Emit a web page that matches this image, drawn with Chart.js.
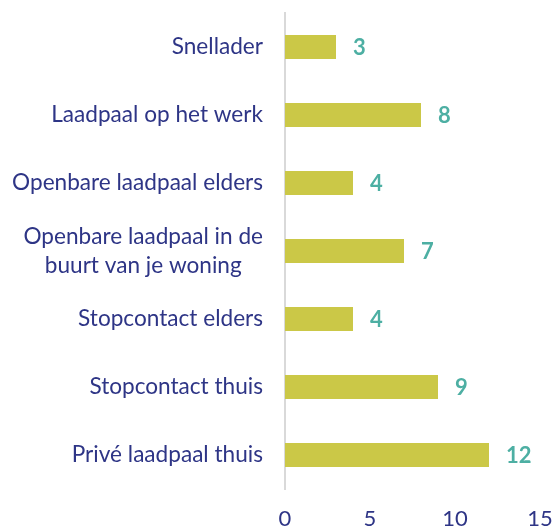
<!DOCTYPE html>
<html><head><meta charset="utf-8">
<script src="https://cdn.jsdelivr.net/npm/chart.js@4/dist/chart.umd.min.js"></script>
<style>html,body{margin:0;padding:0;background:#fff}#wrap{width:556px;height:529px}</style>
</head><body><div id="wrap"><canvas id="c" width="556" height="529"></canvas></div>
<script>
const categories = [
  "Snellader",
  "Laadpaal op het werk",
  "Openbare laadpaal elders",
  ["Openbare laadpaal in de", "buurt van je woning"],
  "Stopcontact elders",
  "Stopcontact thuis",
  "Privé laadpaal thuis"
];
const values = [3, 8, 4, 7, 4, 9, 12];
const xTicks = [0, 5, 10, 15];

const FONT = "Lato, 'Open Sans', sans-serif";
const NAVY = "#2E3586";
const TEAL = "#4DAFA3";
const BAR = "#CBC847";

const labelPlugin = {
  id: 'customLabels',
  afterDatasetsDraw(chart) {
    const ctx = chart.ctx;
    const meta = chart.getDatasetMeta(0);
    ctx.save();
    ctx.font = "bold 22px " + FONT;
    ctx.fillStyle = TEAL;
    ctx.textBaseline = "middle";
    ctx.textAlign = "left";
    meta.data.forEach((bar, i) => {
      ctx.fillText(String(values[i]), bar.x + 17, bar.y + 1);
    });
    const ys = chart.scales.y;
    ctx.font = "22.6px " + FONT;
    ctx.fillStyle = NAVY;
    categories.forEach((lab, i) => {
      const lines = Array.isArray(lab) ? lab : [lab];
      const yc = ys.getPixelForTick(i);
      const w = Math.max(...lines.map(l => ctx.measureText(l).width));
      const right = chart.chartArea.left - 22;
      const cx = right - w / 2;
      const lh = 29;
      ctx.textAlign = "center";
      lines.forEach((l, k) => {
        ctx.fillText(l, cx, yc + (k - (lines.length - 1) / 2) * lh);
      });
    });
    ctx.restore();
  }
};

new Chart(document.getElementById('c'), {
  type: 'bar',
  data: {
    labels: categories,
    datasets: [{
      data: values,
      backgroundColor: BAR,
      borderWidth: 0,
      barPercentage: 0.353,
      categoryPercentage: 1.0
    }]
  },
  options: {
    indexAxis: 'y',
    responsive: false,
    animation: false,
    devicePixelRatio: 1,
    layout: { padding: { top: 13, right: 16, bottom: 0, left: 0 } },
    plugins: { legend: { display: false }, tooltip: { enabled: false } },
    scales: {
      x: {
        min: 0, max: 15,
        afterBuildTicks(scale) { scale.ticks = xTicks.map(v => ({ value: v })); },
        grid: { display: false, drawTicks: false },
        border: { display: false },
        ticks: { color: NAVY, font: { family: FONT, size: 22 }, padding: 17, maxRotation: 0 },
        afterFit(scale) { scale.height = 40; scale.paddingLeft = 0; scale.paddingRight = 0; }
      },
      y: {
        grid: { display: false, drawTicks: false },
        border: { display: true, color: "#D9D9D9", width: 2 },
        ticks: { color: 'transparent', font: { family: FONT, size: 12 } },
        afterFit(scale) { scale.width = 285; }
      }
    }
  },
  plugins: [labelPlugin]
});
</script></body></html>
